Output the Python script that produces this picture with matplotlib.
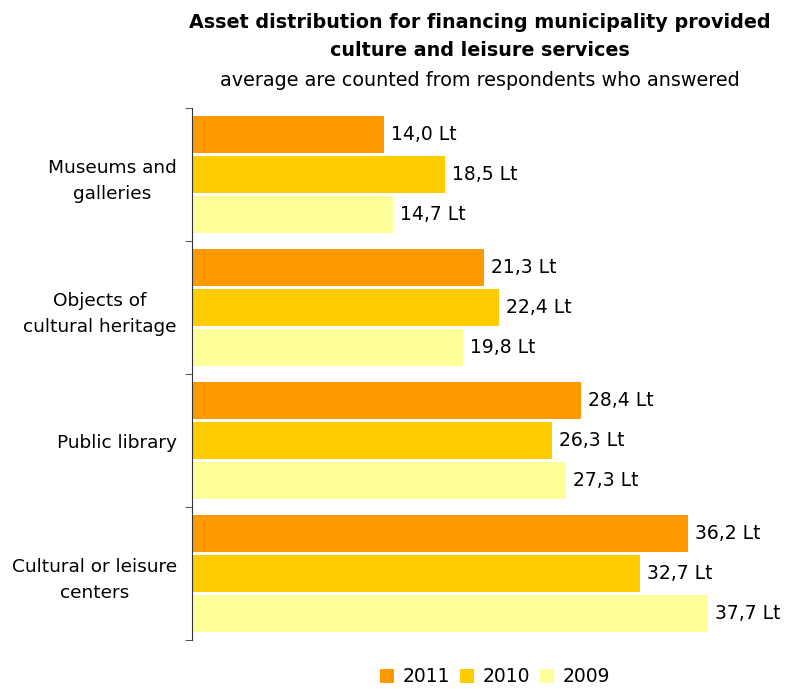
import matplotlib
matplotlib.use("Agg")
import matplotlib.pyplot as plt
import numpy as np

categories = ["Museums and\ngalleries", "Objects of\ncultural heritage", "Public library",
              "Cultural or leisure\ncenters"]
years = ["2011", "2010", "2009"]
values_2011 = [14.0, 21.3, 28.4, 36.2]
values_2010 = [18.5, 22.4, 26.3, 32.7]
values_2009 = [14.7, 19.8, 27.3, 37.7]
colors = ["#FF9900", "#FFCC00", "#FFFF99"]

series = [values_2011, values_2010, values_2009]

fig = plt.figure(figsize=(7.87, 6.89), dpi=100)
ax = fig.add_axes([0.244, 0.071, 0.696, 0.772])

n = len(categories)
pos = np.arange(n)
step = 0.30
height = 0.28
for i, (vals, col, yr) in enumerate(zip(series, colors, years)):
    y = pos + (i - 1) * step
    bars = ax.barh(y, vals, height=height, color=col, label=yr, edgecolor="none")
    for b, v in zip(bars, vals):
        ax.text(v + 0.5, b.get_y() + b.get_height() / 2,
                f"{v:.1f}".replace(".", ",") + " Lt",
                va="center", ha="left", fontsize=13.5, clip_on=False)

ax.set_xlim(0, 40)
ax.set_ylim(n - 0.5, -0.5)
ax.set_yticks(pos)
ax.set_yticklabels(categories, fontsize=13.3, ha="right", multialignment="center",
                   linespacing=1.6)
ax.tick_params(axis="y", which="major", length=0, pad=11)
ax.set_yticks(np.arange(-0.5, n, 1.0), minor=True)
ax.tick_params(axis="y", which="minor", length=5, direction="out", color="#333333")
ax.set_xticks([])
for s in ["top", "right", "bottom"]:
    ax.spines[s].set_visible(False)
ax.spines["left"].set_color("#333333")

fig.text(0.61, 1 - 22 / 689, "Asset distribution for financing municipality provided",
         ha="center", va="center", fontsize=13.8, fontweight="bold")
fig.text(0.61, 1 - 50 / 689, "culture and leisure services",
         ha="center", va="center", fontsize=13.8, fontweight="bold")
fig.text(0.61, 1 - 80 / 689, "average are counted from respondents who answered",
         ha="center", va="center", fontsize=13.8)

fig.legend(loc="center", bbox_to_anchor=(0.629, 1 - 677 / 689), ncol=3, frameon=False,
           fontsize=13.5, handlelength=0.75, handleheight=0.75, handletextpad=0.45,
           columnspacing=0.55)

fig.savefig("out.png", dpi=100)
